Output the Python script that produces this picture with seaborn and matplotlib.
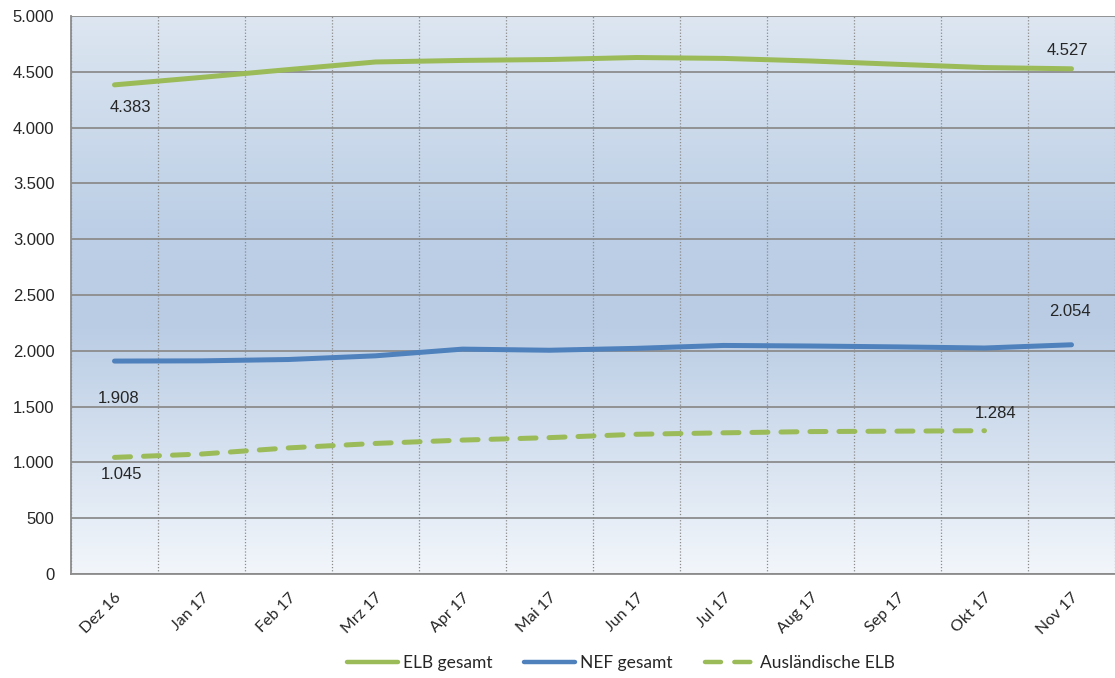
import numpy as np
import pandas as pd
import matplotlib
matplotlib.use("Agg")
import matplotlib.pyplot as plt
import matplotlib.transforms as mtransforms
from matplotlib.colors import LinearSegmentedColormap
from matplotlib.lines import Line2D
from matplotlib.ticker import FuncFormatter, FixedLocator
import seaborn as sns

# chart data
months = ["Dez 16", "Jan 17", "Feb 17", "Mrz 17", "Apr 17", "Mai 17",
          "Jun 17", "Jul 17", "Aug 17", "Sep 17", "Okt 17", "Nov 17"]
elb_gesamt = [4383, 4450, 4520, 4588, 4602, 4610, 4628, 4620, 4597, 4567, 4538, 4527]
nef_gesamt = [1908, 1910, 1922, 1955, 2015, 2005, 2022, 2048, 2043, 2035, 2025, 2054]
ausl_elb = [1045, 1075, 1130, 1170, 1200, 1222, 1252, 1265, 1276, 1280, 1284, np.nan]

green = "#9BBB59"
blue = "#4F81BD"

sns.set_style("white")
plt.rcParams["font.family"] = ["Liberation Sans", "DejaVu Sans"]

fig = plt.figure(figsize=(11.15, 6.78), dpi=100)
ax = fig.add_axes([71 / 1115, 104 / 678, 1044 / 1115, 558 / 678])

# gradient plot background
cmap = LinearSegmentedColormap.from_list(
    "bg", [(0.0, "#f2f6fb"), (0.45, "#b9cce4"), (0.62, "#bccfe6"), (1.0, "#dde6f1")])
grad = np.linspace(0, 1, 256).reshape(-1, 1)
ax.imshow(grad, extent=[-0.5, 11.5, 0, 5000], origin="lower", aspect="auto",
          cmap=cmap, zorder=0)

df = pd.DataFrame({"Monat": months, "ELB": elb_gesamt, "NEF": nef_gesamt, "AUSL": ausl_elb})
x = np.arange(len(months))

sns.lineplot(x=x, y=df["ELB"], ax=ax, color=green, lw=3.6, solid_capstyle="round", zorder=3)
sns.lineplot(x=x, y=df["NEF"], ax=ax, color=blue, lw=3.6, solid_capstyle="round", zorder=3)
sns.lineplot(x=x, y=df["AUSL"], ax=ax, color=green, lw=3.6, zorder=3)
ax.lines[-1].set_dashes((3.2, 2.6))
ax.lines[-1].set_dash_capstyle("round")

ax.set_xlim(-0.5, 11.5)
ax.set_ylim(0, 5000)
ax.set_xlabel("")
ax.set_ylabel("")

# axes, ticks, grid
ax.set_yticks(np.arange(0, 5001, 500))
ax.yaxis.set_major_formatter(FuncFormatter(lambda v, p: f"{int(v):,}".replace(",", ".")))
ax.set_xticks(x)
ax.set_xticklabels(months, rotation=45, ha="right", rotation_mode="anchor",
                   fontsize=11.5, family=["Lato", "DejaVu Sans"])
shift = mtransforms.ScaledTranslation(-6 / 100, 0, fig.dpi_scale_trans)
for t in ax.get_xticklabels():
    t.set_transform(t.get_transform() + shift)
ax.xaxis.set_minor_locator(FixedLocator(np.arange(-0.5, 12, 1)))
ax.tick_params(axis="x", which="major", length=0, pad=12)
ax.tick_params(axis="x", which="minor", length=6, color="#8c8c8c", width=1.2, direction="out")
ax.tick_params(axis="y", length=6, color="#8c8c8c", width=1.2, direction="out",
               labelsize=12, pad=6)
ax.set_axisbelow(False)
ax.grid(axis="y", which="major", color="#8c8c8c", lw=1.3)
ax.grid(axis="x", which="minor", color="#8c8c8c", lw=0.9, ls=(0, (1, 1.5)))
for side in ["top", "right"]:
    ax.spines[side].set_visible(False)
for side in ["left", "bottom"]:
    ax.spines[side].set_color("#8c8c8c")
    ax.spines[side].set_linewidth(1.3)

# data labels
def label(i, val, dx, dy):
    ax.annotate(f"{int(val):,}".replace(",", "."), (x[i], val), xytext=(dx, dy),
                textcoords="offset pixels", ha="center", va="center", fontsize=12, zorder=5)

label(0, elb_gesamt[0], 16, -23)
label(11, elb_gesamt[11], -4, 18)
label(0, nef_gesamt[0], 4, -37)
label(11, nef_gesamt[11], -2, 33)
label(0, ausl_elb[0], 7, -17)
label(10, ausl_elb[10], 11, 17)

handles = [
    Line2D([], [], color=green, lw=3.2),
    Line2D([], [], color=blue, lw=3.2),
    Line2D([], [], color=green, lw=3.2, dashes=(3.6, 3.0), dash_capstyle="round"),
]
leg = ax.legend(handles, ["ELB gesamt", "NEF gesamt", "Ausländische ELB"],
                loc="center", bbox_to_anchor=(0.527, -0.16), ncol=3, frameon=False,
                handlelength=2.9, handletextpad=0.3, columnspacing=1.85,
                borderaxespad=0, borderpad=0,
                prop={"family": ["Lato", "DejaVu Sans"], "size": 12.5})

fig.savefig("out.png", dpi=100)
